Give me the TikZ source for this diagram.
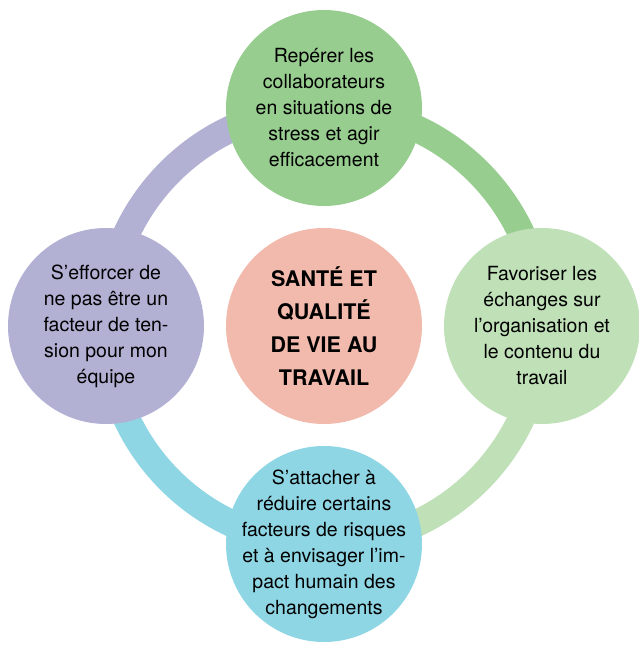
\documentclass[tikz,border=0pt]{standalone}
\usepackage{fontspec}
\setmainfont{TeX Gyre Heros}
\usetikzlibrary{backgrounds}

\definecolor{lavande}{HTML}{B2B1D4}
\definecolor{vert}{HTML}{97CD8F}
\definecolor{vertclair}{HTML}{C0E0B8}
\definecolor{cyan}{HTML}{8FD6E5}
\definecolor{saumon}{HTML}{F2BAAC}

\begin{document}
\begin{tikzpicture}[x = 1pt, y = 1pt, every node/.style = {text = black},
	bulle/.style = {circle, minimum size = 196pt, inner sep = 0pt, align = center,
		font = \fontsize{19.5}{26}\selectfont}]

	% Definitions

	\def\R{218}		% Radius of the ring
	\def\W{27pt}	% Width of the ring

	\useasboundingbox (-324, -322) rectangle (314, 326);

	% Outer circles and centre

	\node [bulle, fill = vert] (reperer) at (90 : \R)
		{Repérer les\\collaborateurs\\en situations de\\stress et agir\\efficacement};
	\node [bulle, fill = vertclair] (favoriser) at (0 : \R)
		{Favoriser les\\échanges sur\\l’organisation et\\le contenu du\\travail};
	\node [bulle, fill = cyan, inner sep = -15pt] (attacher) at (-90 : \R)
		{S’attacher à\\réduire certains\\facteurs de risques\\et à envisager l’im-\\pact humain des\\changements};
	\node [bulle, fill = lavande] (efforcer) at (180 : \R)
		{S’efforcer de\\ne pas être un\\facteur de ten-\\sion pour mon\\équipe};
	\node [bulle, fill = saumon, font = \fontsize{21.5}{33}\selectfont\bfseries] (sante) at (0, 0)
		{SANTÉ ET\\QUALITÉ\\DE VIE AU\\TRAVAIL};

	% Ring arcs, behind the circles

	\begin{scope}[on background layer = {line width = \W}]

		\draw [lavande] (efforcer.center) arc (180 : 90 : \R);
		\draw [vert] (reperer.center) arc (90 : 0 : \R);
		\draw [vertclair] (favoriser.center) arc (0 : -90 : \R);
		\draw [cyan] (attacher.center) arc (-90 : -180 : \R);

	\end{scope}

\end{tikzpicture}
\end{document}
